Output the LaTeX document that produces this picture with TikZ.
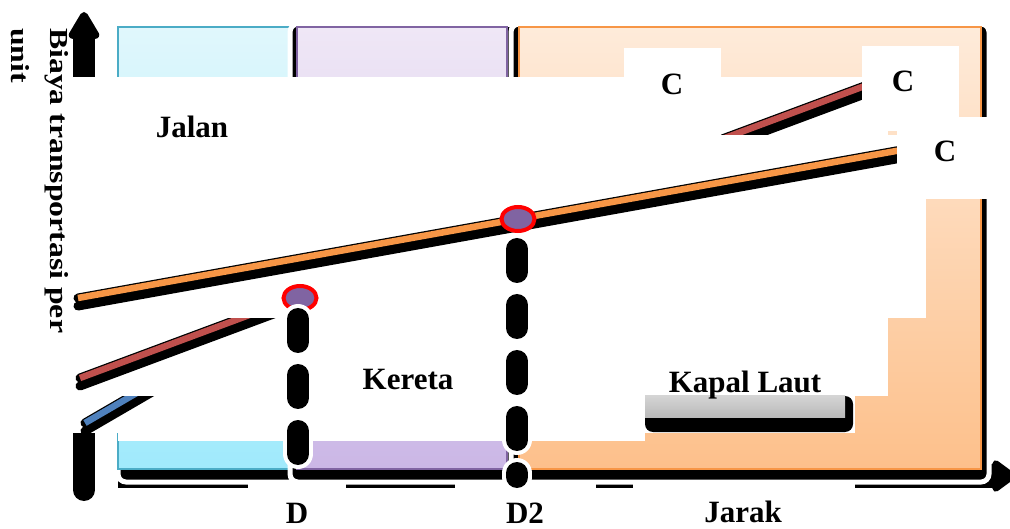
\documentclass[tikz,border=0pt]{standalone}
\usepackage{fontspec}
\setmainfont{Liberation Serif}
\usetikzlibrary{arrows.meta}

\definecolor{jalantop}{HTML}{E0F7FC}
\definecolor{jalanisi}{HTML}{A0EAFC}
\definecolor{jalantepi}{HTML}{4BACC6}
\definecolor{keretatop}{HTML}{EFE7F6}
\definecolor{keretaisi}{HTML}{CBB7E6}
\definecolor{keretatepi}{HTML}{8064A2}
\definecolor{kapaltop}{HTML}{FEEBDA}
\definecolor{kapalisi}{HTML}{FDC08B}
\definecolor{kapaltepi}{HTML}{F79646}
\definecolor{abuatas}{HTML}{D4D4D4}
\definecolor{abubawah}{HTML}{B8B8B8}
\definecolor{biru}{HTML}{4F81BD}
\definecolor{merah}{HTML}{C0504D}
\definecolor{oranye}{HTML}{F79646}
\definecolor{ungu}{HTML}{8064A2}

\newcommand{\garisbiaya}[3]{%
    \draw [bayang, transform canvas={yshift=-8pt}] (#2) -- (#3);
    \draw [bayang] (#2) -- (#3);
    \draw [#1, line width=6.5pt] (#2) -- (#3);
}

\begin{document}
\begin{tikzpicture}[x=1pt, y=-1pt,
        teks/.style={font=\fontsize{31}{36}\selectfont\bfseries, inner sep=0pt, anchor=base},
        ylabel/.style={font=\fontsize{26}{30}\selectfont\bfseries, inner sep=0pt, anchor=base west, rotate=-90, xscale=1.22},
        kotak/.style={fill=white, draw=none},
        bayang/.style={black, line width=9pt, line cap=round},
        putus/.style={line width=#1, line cap=round, dash pattern=on 23pt off 33pt},
        titik/.style={draw=red, line width=4pt, fill=ungu}]
        \useasboundingbox (0,0) rectangle (1010,529);

        \draw [black, line width=24pt, -{Triangle[width=36pt, length=26pt, round]}] (118,476) -- (1016,476);
        \draw [black, line width=22pt, line cap=round, -{Triangle[width=34pt, length=31pt, round]}] (84,490) -- (84,12);

        \foreach \xa/\xb/\xs/\atas/\isi/\tepi in {118/289/118/jalantop/jalanisi/jalantepi,
                297/507/290/keretatop/keretaisi/keretatepi, 519/981/511/kapaltop/kapalisi/kapaltepi} {
            \filldraw [black, draw=white, line width=5pt, rounded corners=8pt] (\xs,24) rectangle (\xb+8,482);
            \shadedraw [top color=\atas, bottom color=\isi, draw=\tepi, line width=2pt] (\xa,27) rectangle (\xb,469);
        }

        \foreach \xa/\ya/\xb/\yb in {73/77/118/433, 118/77/645/441, 645/77/855/433, 855/77/888/396, 888/135/926/318} {
            \fill [kotak] (\xa,\ya) rectangle (\xb,\yb);
        }

        \fill [black, rounded corners=8pt] (645,396) rectangle (853,432);
        \shade [top color=abuatas, bottom color=abubawah] (645,396) rectangle (845,418);

        \coordinate (biru0) at (85,423);
        \coordinate (merah0) at (80,378);
        \coordinate (merah1) at (905,71);
        \coordinate (oranye0) at (78,298);
        \coordinate (oranye1) at (935,144);
        \coordinate (d1) at (300,298);
        \coordinate (d2) at (518,219);

        \garisbiaya{biru}{biru0}{d1}
        \fill [kotak] (68,300) rectangle (300,396);
        \garisbiaya{merah}{merah0}{merah1}
        \fill [kotak] (73,135) rectangle (897,318);
        \garisbiaya{oranye}{oranye0}{oranye1}

        \draw [titik] (d1) ellipse [x radius=16.5pt, y radius=12pt];
        \draw [titik] (d2) ellipse [x radius=16.5pt, y radius=12pt];

        \foreach \xa/\ya/\xb/\yb in {624/48/721/135, 862/46/959/131, 897/117/988/199,
                248/483/346/529, 455/483/596/529, 633/483/855/529} {
            \fill [kotak] (\xa,\ya) rectangle (\xb,\yb);
        }

        \coordinate (d1a) at (298,319);
        \coordinate (d1b) at (298,456);
        \coordinate (d2a) at (517,249);
        \coordinate (d2b) at (517,477);
        \foreach \a/\b in {d1a/d1b, d2a/d2b} {
            \draw [white, putus=30pt] (\a) -- (\b);
            \draw [black, putus=22pt] (\a) -- (\b);
        }

        \node [teks] (jalan) at (192,138) {Jalan};
        \node [teks] (kereta) at (408,390) {Kereta};
        \node [teks] (kapal) at (745,393) {Kapal Laut};
        \node [teks] (c1) at (672,95) {C};
        \node [teks] (c2) at (903,92) {C};
        \node [teks] (c3) at (945,162) {C};
        \node [teks] (labeld) at (297,523) {D};
        \node [teks] (labeld2) at (525,523) {D2};
        \node [teks] (jarak) at (743,522) {Jarak};
        \node [ylabel] (biaya) at (50,28) {Biaya transportasi per};
        \node [ylabel] (unit) at (12,28) {unit};
\end{tikzpicture}
\end{document}
